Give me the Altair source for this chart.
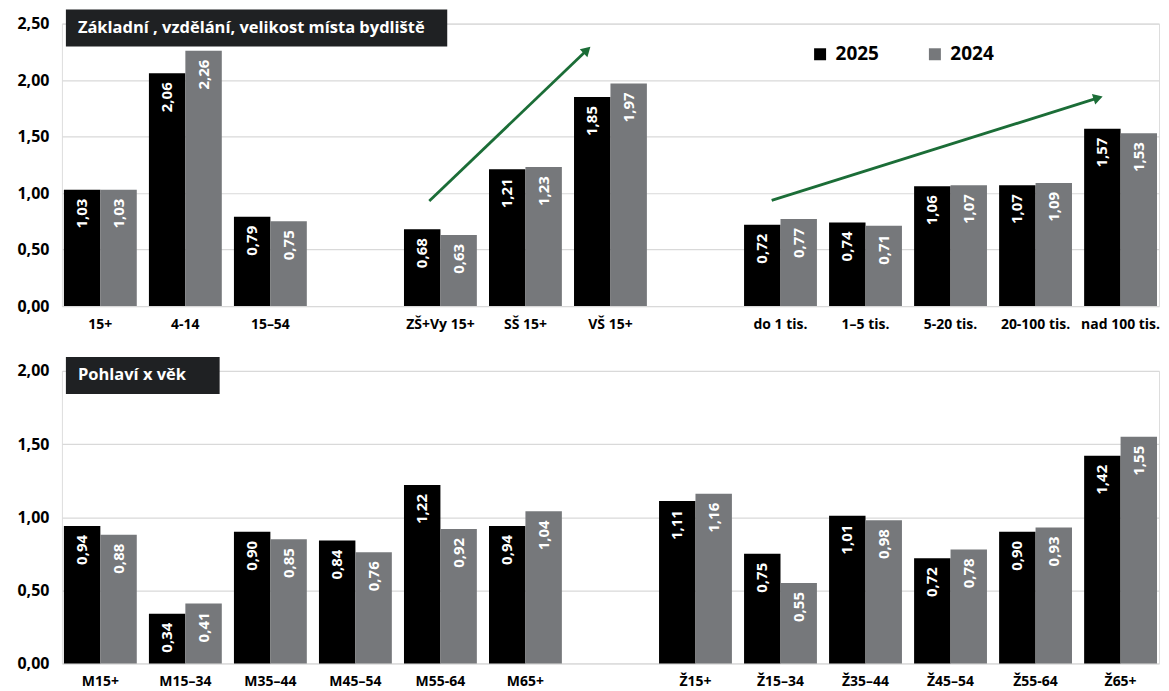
import altair as alt
import pandas as pd

# ---------------- data ----------------
years = ["2025", "2024"]

top_cats = ["15+", "4-14", "15–54", " ", "ZŠ+Vy 15+", "SŠ 15+", "VŠ 15+", "  ",
            "do 1 tis.", "1–5 tis.", "5-20 tis.", "20-100 tis.", "nad 100 tis."]
top_labels = ["15+", "4-14", "15–54", "ZŠ+Vy 15+", "SŠ 15+", "VŠ 15+",
              "do 1 tis.", "1–5 tis.", "5-20 tis.", "20-100 tis.", "nad 100 tis."]
top_2025 = [1.03, 2.06, 0.79, 0.68, 1.21, 1.85, 0.72, 0.74, 1.06, 1.07, 1.57]
top_2024 = [1.03, 2.26, 0.75, 0.63, 1.23, 1.97, 0.77, 0.71, 1.07, 1.09, 1.53]

bot_cats = ["M15+", "M15–34", "M35–44", "M45–54", "M55-64", "M65+", " ",
            "Ž15+", "Ž15–34", "Ž35–44", "Ž45–54", "Ž55-64", "Ž65+"]
bot_labels = ["M15+", "M15–34", "M35–44", "M45–54", "M55-64", "M65+",
              "Ž15+", "Ž15–34", "Ž35–44", "Ž45–54", "Ž55-64", "Ž65+"]
bot_2025 = [0.94, 0.34, 0.90, 0.84, 1.22, 0.94, 1.11, 0.75, 1.01, 0.72, 0.90, 1.42]
bot_2024 = [0.88, 0.41, 0.85, 0.76, 0.92, 1.04, 1.16, 0.55, 0.98, 0.78, 0.93, 1.55]

top_title = "Základní , vzdělání, velikost místa bydliště"
bot_title = "Pohlaví x věk"

top_ticks = [0, 0.5, 1.0, 1.5, 2.0, 2.5]
bot_ticks = [0, 0.5, 1.0, 1.5, 2.0]

colors = ["#000000", "#76787b"]
FONT = "Open Sans"
GREEN = "#1b6d37"


def make_df(labels, v25, v24):
    rows = []
    for c, a, b in zip(labels, v25, v24):
        rows.append({"cat": c, "year": "2025", "value": a, "label": f"{a:.2f}".replace(".", ",")})
        rows.append({"cat": c, "year": "2024", "value": b, "label": f"{b:.2f}".replace(".", ",")})
    return pd.DataFrame(rows)


def panel(df, cats, ymax, ticks, height, title, title_w, show_legend, arrows):
    x = alt.X("cat:N",
              scale=alt.Scale(domain=cats, paddingInner=0.1429, paddingOuter=0.0235),
              axis=alt.Axis(title=None, labelAngle=0, domain=False, ticks=False,
                            labelPadding=11, labelFont=FONT, labelFontSize=14,
                            labelFontWeight="bold", labelColor="#000000", grid=False))
    xo = alt.XOffset("year:N", scale=alt.Scale(domain=years, paddingInner=0, paddingOuter=0))
    y = alt.Y("value:Q",
              scale=alt.Scale(domain=[0, ymax], nice=False, zero=True),
              axis=alt.Axis(title=None, values=ticks, domain=False, ticks=False,
                            grid=True, gridColor="#d9d9d9", gridWidth=1.2,
                            labelExpr="replace(format(datum.value, '.2f'), '.', ',')",
                            labelPadding=13, labelFont=FONT, labelFontSize=16,
                            labelFontWeight="bold", labelColor="#000000"))
    if show_legend:
        legend = alt.Legend(title=None, orient="none", legendX=750, legendY=21,
                            direction="horizontal", symbolType="square", symbolSize=144,
                            symbolStrokeWidth=0, labelFont=FONT, labelFontSize=19,
                            labelFontWeight="bold", labelColor="#000000",
                            labelOffset=6, columnPadding=46, padding=0)
    else:
        legend = None
    color = alt.Color("year:N", scale=alt.Scale(domain=years, range=colors), legend=legend)

    base = alt.Chart(df)
    bars = base.mark_bar().encode(x=x, xOffset=xo, y=y, color=color)
    text = base.mark_text(angle=270, align="right", baseline="middle", dx=-9,
                          color="white", font=FONT, fontSize=15, fontWeight="bold").encode(
        x=x, xOffset=xo, y=y, text="label:N")

    tdf = pd.DataFrame({"t": [title]})
    box = alt.Chart(tdf).mark_rect(color="#1f2123").encode(
        x=alt.value(4), x2=alt.value(4 + title_w), y=alt.value(-14), y2=alt.value(23))
    ttext = alt.Chart(tdf).mark_text(align="left", baseline="middle", color="white",
                                     font=FONT, fontSize=16.5, fontWeight="bold").encode(
        x=alt.value(16), y=alt.value(4.5), text="t:N")

    layers = [bars, text, box, ttext]
    for (x1, y1, x2, y2, ang) in arrows:
        one = pd.DataFrame({"a": [1]})
        layers.append(alt.Chart(one).mark_rule(color=GREEN, strokeWidth=2.8).encode(
            x=alt.value(x1), x2=alt.value(x2), y=alt.datum(y1), y2=alt.datum(y2)))
        layers.append(alt.Chart(one).mark_point(shape="triangle-up", filled=True, size=120,
                                                angle=ang, color=GREEN, opacity=1).encode(
            x=alt.value(x2), y=alt.datum(y2)))
    return alt.layer(*layers).properties(width=1099, height=height)


top_df = make_df(top_labels, top_2025, top_2024)
bot_df = make_df(bot_labels, bot_2025, bot_2024)

top_arrows = [(368, 0.93, 526, 2.266, 46), (711, 0.936, 1038, 1.842, 72.6)]

top = panel(top_df, top_cats, 2.5, top_ticks, 283, top_title, 382, True, top_arrows)
bot = panel(bot_df, bot_cats, 2.0, bot_ticks, 293, bot_title, 154, False, [])

chart = alt.vconcat(top, bot, spacing=24).resolve_scale(
    x="independent", y="independent", xOffset="independent"
).resolve_legend(color="independent").properties(
    padding={"left": 8, "top": 0, "right": 0, "bottom": 0}
).configure_view(stroke=None).configure(font=FONT, background="white")

chart.save("out.html", embed_options={"renderer": "svg", "actions": False})
